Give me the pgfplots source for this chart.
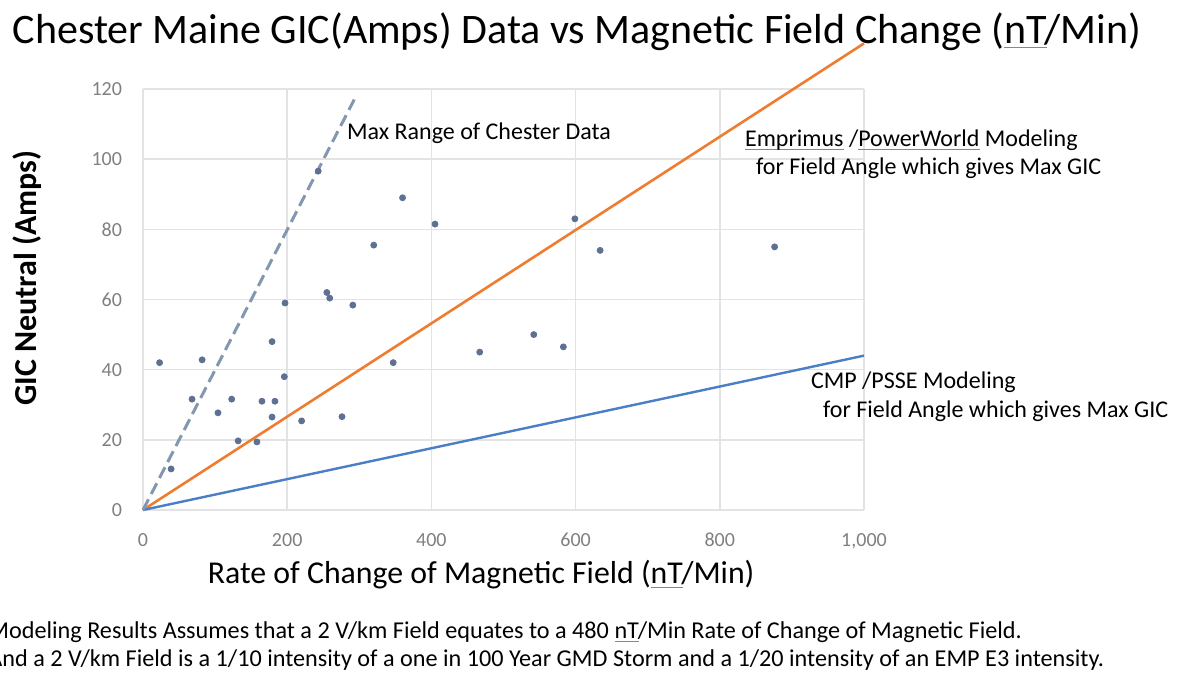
\documentclass[border=0pt]{standalone}
\usepackage{pgfplots}
\pgfplotsset{compat=1.18}
\usepackage{fontspec}
\setmainfont{Carlito}

\definecolor{gridgray}{HTML}{E3E3E3}
\definecolor{tickgray}{HTML}{7F7F7F}
\definecolor{dotcol}{HTML}{5E7193}
\definecolor{orangeline}{HTML}{ED7D31}
\definecolor{blueline}{HTML}{4A7EC7}
\definecolor{dashcol}{HTML}{8497B0}
\definecolor{spellred}{HTML}{E06070}

% red spell-check underline as in the reference
\newcommand{\spl}[1]{\setbox0\hbox{#1}\rlap{\color{spellred}\rule[-2pt]{\wd0}{0.5pt}}#1}

\begin{document}
\begin{tikzpicture}
% 1 px of the reference = 0.5pt
\useasboundingbox (0,0) rectangle (588.5pt,338.5pt);
\clip (0,0) rectangle (588.5pt,338.5pt);

\node[anchor=center] at (288.5pt,322.5pt) {\fontsize{21}{24}\selectfont Chester Maine GIC(Amps) Data vs Magnetic Field Change (\spl{nT}/Min)};

\begin{axis}[
  at={(71.5pt,83.5pt)}, anchor=south west,
  scale only axis, width=360.5pt, height=210.5pt,
  xmin=0, xmax=1000, ymin=0, ymax=120,
  xtick={0,200,...,1000}, ytick={0,20,...,120},
  axis line style={draw=none},
  tick style={draw=none},
  grid=major, major grid style={gridgray, line width=0.8pt},
  clip=false,
  /pgf/number format/assume math mode=true,
  /pgf/number format/1000 sep={,},
  ticklabel style={font=\fontsize{10}{12}\selectfont, text=tickgray},
  xticklabel style={yshift=-8pt},
  yticklabel style={xshift=-7pt},
  xlabel={Rate of Change of Magnetic Field (\spl{nT}/Min)},
  xlabel style={at={(axis description cs:0.469,-0.154)}, anchor=center, font=\fontsize{15.9}{18}\selectfont},
  ylabel={\bfseries GIC Neutral (Amps)},
  ylabel style={at={(axis description cs:-0.161,0.551)}, anchor=center, font=\fontsize{16}{18}\selectfont},
]
% modelled lines
\addplot[no marks, orangeline, line width=1.3pt] coordinates {(0,0) (1000,133)};
\addplot[no marks, blueline, line width=1.2pt] coordinates {(0,0) (1000,44)};
\addplot[no marks, dashcol, line width=1.5pt, dash pattern=on 6pt off 3pt] coordinates {(0,0) (293,117)};
% Chester measurements
\addplot[only marks, mark=*, mark size=1.5pt, dotcol] coordinates {
(23,42) (39,11.7) (82,42.8) (179,48) (197,59) (196,38)
(68,31.6) (123,31.6) (165,31) (183,31) (104,27.7) (179,26.5)
(220,25.4) (276,26.6) (132,19.7) (158,19.4)
(347,42) (255,62) (259,60.4) (291,58.4) (243,96.6) (360,89)
(320,75.5) (405,81.5) (599,83) (634,74) (467,45) (542,50)
(583,46.5) (876,75)
};
\end{axis}

\node[anchor=west, font=\fontsize{12}{14}\selectfont] at (170pt,272pt) {Max Range of Chester Data};
\node[anchor=west, font=\fontsize{12}{14}\selectfont] at (369pt,268.5pt) {\spl{Emprimus} /\spl{PowerWorld} Modeling};
\node[anchor=west, font=\fontsize{12}{14}\selectfont] at (374.5pt,254.5pt) {for Field Angle which gives Max GIC};
\node[anchor=west, font=\fontsize{12}{14}\selectfont] at (402pt,147.5pt) {CMP /PSSE Modeling};
\node[anchor=west, font=\fontsize{12}{14}\selectfont] at (408pt,133pt) {for Field Angle which gives Max GIC};

\node[anchor=west, inner sep=0pt, font=\fontsize{12.1}{14}\selectfont] at (-6pt,22.5pt) {Modeling Results Assumes that a 2 V/km Field equates to a 480 \spl{nT}/Min Rate of Change of Magnetic Field.};
\node[anchor=west, inner sep=0pt, font=\fontsize{12.1}{14}\selectfont] at (-6pt,8.5pt) {And a 2 V/km Field is a 1/10 intensity of a one in 100 Year GMD Storm and a 1/20 intensity of an EMP E3 intensity.};
\end{tikzpicture}
\end{document}
